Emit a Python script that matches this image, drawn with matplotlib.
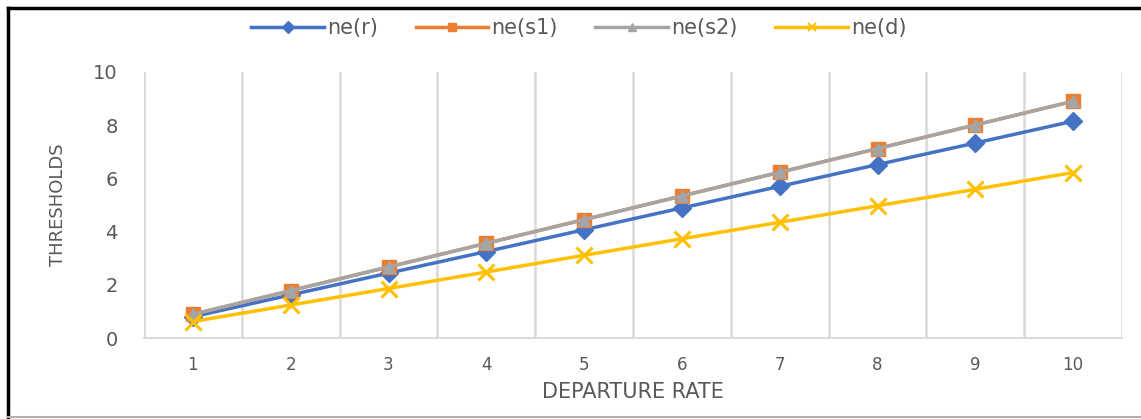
import matplotlib
matplotlib.use("Agg")
import matplotlib.pyplot as plt
from matplotlib.lines import Line2D

departure_rate = [1, 2, 3, 4, 5, 6, 7, 8, 9, 10]
ne_r = [0.80, 1.62, 2.44, 3.25, 4.07, 4.89, 5.70, 6.52, 7.33, 8.15]
ne_s1 = [0.89, 1.78, 2.67, 3.56, 4.45, 5.34, 6.23, 7.12, 8.01, 8.90]
ne_s2 = [0.89, 1.78, 2.67, 3.56, 4.45, 5.34, 6.23, 7.12, 8.01, 8.90]
ne_d = [0.62, 1.24, 1.86, 2.48, 3.11, 3.73, 4.35, 4.97, 5.59, 6.22]
series_labels = ["ne(r)", "ne(s1)", "ne(s2)", "ne(d)"]
y_ticks = [0, 2, 4, 6, 8, 10]

colors = ["#4472C4", "#ED7D31", "#A5A5A5", "#FFC000"]
markers = ["D", "s", "^", "x"]
msizes = [9, 10, 9, 11]
text_color = "#595959"

plt.rcParams["font.family"] = ["DejaVu Sans"]

fig = plt.figure(figsize=(11.41, 4.19), dpi=100)
ax = fig.add_axes([144 / 1141, 1 - 338 / 419, (1122 - 144) / 1141, (338 - 72) / 419])

for vals, c, m, ms, lab in zip([ne_r, ne_s1, ne_s2, ne_d], colors, markers, msizes, series_labels):
    ax.plot(departure_rate, vals, color=c, lw=2.5, marker=m, markersize=ms,
            markeredgewidth=2.2 if m == "x" else 1, label=lab, zorder=3)

ax.set_xlim(0.5, 10.5)
ax.set_ylim(0, 10)
ax.set_xticks(departure_rate)
ax.set_xticklabels([str(v) for v in departure_rate], fontsize=12, color=text_color)
ax.set_yticks(y_ticks)
ax.set_yticklabels([str(v) for v in y_ticks], fontsize=14, color=text_color)
ax.tick_params(axis="both", length=0)
ax.tick_params(axis="x", pad=13)
ax.tick_params(axis="y", pad=19)

# category boundary gridlines
for xb in [i + 0.5 for i in range(0, 11)]:
    ax.axvline(xb, color="#D9D9D9", lw=1.8, zorder=1)

for side in ["top", "right", "left"]:
    ax.spines[side].set_visible(False)
ax.spines["bottom"].set_color("#D9D9D9")
ax.spines["bottom"].set_linewidth(1.4)

ax.set_xlabel("DEPARTURE RATE", fontsize=15, color=text_color, labelpad=6)
ax.set_ylabel("THRESHOLDS", fontsize=13, color=text_color, labelpad=19)

handles = [Line2D([0], [0], color=c, lw=2.5, marker=m, markersize=6,
                  markeredgewidth=1.5 if m == "x" else 1)
           for c, m in zip(colors, markers)]
fig.legend(handles, series_labels, loc="center", bbox_to_anchor=(579 / 1141, 1 - 28 / 419),
           ncol=4, frameon=False, fontsize=15, handlelength=3.5, handletextpad=0.15,
           columnspacing=1.8, labelcolor=text_color)

# outer frame: dark left and top edges, light bottom edge
fig.add_artist(Line2D([8 / 1141, 8 / 1141], [2 / 419, 1 - 8 / 419], transform=fig.transFigure,
                      color="black", lw=2.5, zorder=10))
fig.add_artist(Line2D([8 / 1141, 1], [1 - 8 / 419, 1 - 8 / 419], transform=fig.transFigure,
                      color="black", lw=2.5, zorder=10))
fig.add_artist(Line2D([8 / 1141, 1], [2 / 419, 2 / 419], transform=fig.transFigure,
                      color="#B0B0B0", lw=1.5, zorder=11))

fig.savefig("out.png", dpi=100)
